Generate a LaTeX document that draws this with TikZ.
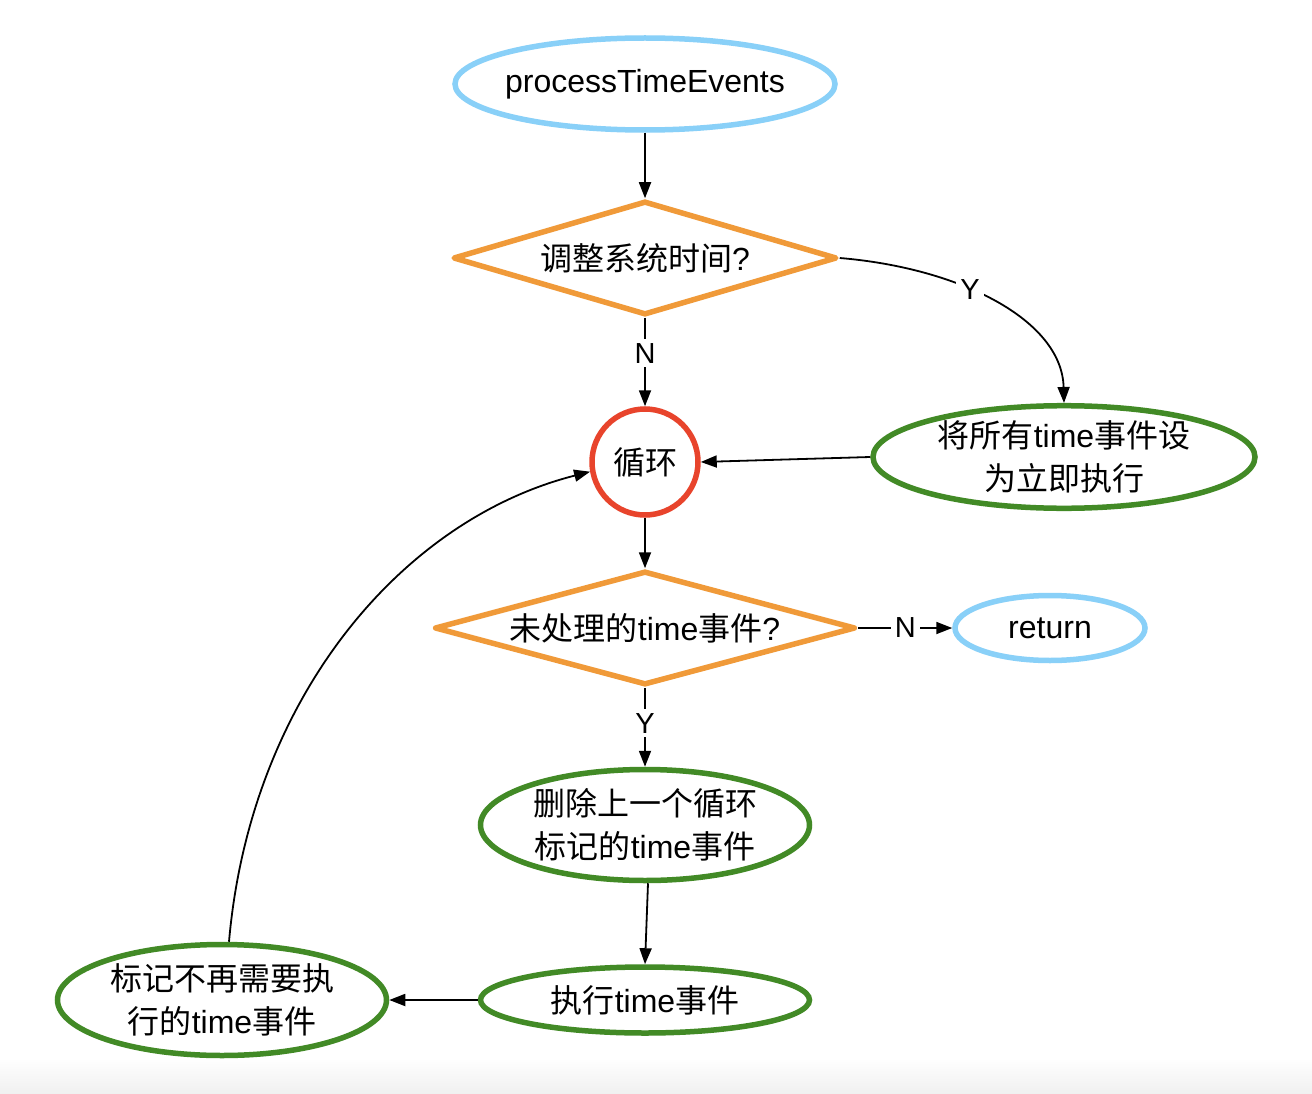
\documentclass[tikz,border=0pt]{standalone}
\usepackage{fontspec}
\setmainfont{Liberation Sans}
\newfontfamily\cjk{Noto Sans CJK SC}
\usetikzlibrary{shapes.geometric,arrows.meta}
\definecolor{cblue}{RGB}{137,208,248}
\definecolor{corange}{RGB}{240,154,57}
\definecolor{cgreen}{RGB}{66,138,38}
\definecolor{cred}{RGB}{232,68,44}
\begin{document}
\begin{tikzpicture}[x=1pt,y=-1pt,
  base/.style={line width=5.5pt, align=center, inner sep=0pt, font=\fontsize{32}{43}\selectfont},
  startend/.style={base, ellipse, draw=cblue},
  decision/.style={base, diamond, draw=corange, line join=round, aspect=3.4},
  proc/.style={base, ellipse, draw=cgreen},
  loopnode/.style={base, circle, draw=cred},
  conn/.style={line width=1.8pt, -{Triangle[length=16pt,width=12pt]}},
  lbl/.style={fill=white, inner sep=4pt, font=\fontsize{29}{30}\selectfont}]
\useasboundingbox (0,0) rectangle (1312,1094);
\fill[white] (0,0) rectangle (1312,1094);
\fill[top color=white, bottom color=black!6] (0,1058) rectangle (1312,1094);

\node[startend, inner xsep=-8pt, minimum width=380pt, minimum height=92pt] (start) at (645,84) {processTimeEvents};
\node[decision, minimum width=384pt, minimum height=114pt] (d1) at (645,258) {{\cjk 调整系统时间}?};
\node[loopnode, minimum size=106pt] (loop) at (645,462) {{\cjk 循环}};
\node[proc, minimum width=382pt, minimum height=92pt] (setnow) at (1064,457) {{\cjk 将所有}time{\cjk 事件设}\\{\cjk 为立即执行}};
\node[decision, minimum width=421pt, minimum height=114pt] (d2) at (645,628) {{\cjk 未处理的}time{\cjk 事件}?};
\node[startend, minimum width=190pt, minimum height=65pt] (ret) at (1050,628) {return};
\node[proc, minimum width=329pt, minimum height=111pt] (del) at (645,825) {{\cjk 删除上一个循环}\\{\cjk 标记的}time{\cjk 事件}};
\node[proc, minimum width=329pt, minimum height=66pt] (exec) at (645,1000) {{\cjk 执行}time{\cjk 事件}};
\node[proc, minimum width=329pt, minimum height=111pt] (mark) at (222,1000) {{\cjk 标记不再需要执}\\{\cjk 行的}time{\cjk 事件}};

\draw[conn] (start) -- (d1);
\draw[conn] (d1) -- node[lbl, pos=0.4]{N} (loop);
\draw[conn] (d1.east) .. controls (960,268) and (1062,320) .. node[lbl, pos=0.4]{Y} (setnow.north);
\draw[conn] (setnow.west) -- (loop.east);
\draw[conn] (loop) -- (d2);
\draw[conn] (d2.east) -- node[lbl]{N} (ret.west);
\draw[conn] (d2) -- node[lbl, pos=0.45]{Y} (del);
\draw[conn] ([xshift=3pt]del.south) -- (exec.north);
\draw[conn] (exec) -- (mark);
\draw[conn] ([xshift=7pt]mark.north) .. controls (250,700) and (400,520) .. (loop.190);
\end{tikzpicture}
\end{document}
